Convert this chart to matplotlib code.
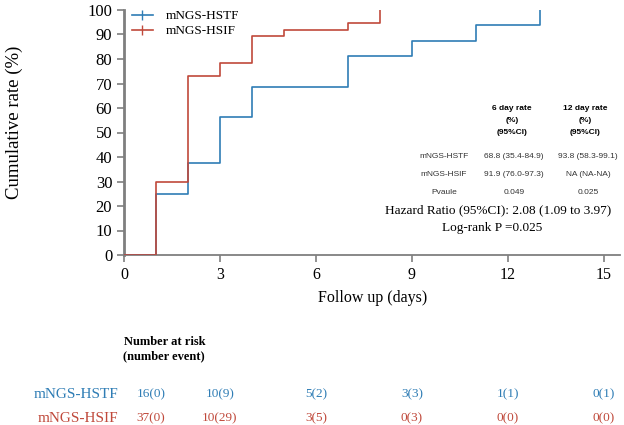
import numpy as np
import matplotlib.pyplot as plt
from matplotlib.lines import Line2D
import matplotlib.transforms as mtransforms

# cumulative rate curves
hstf_days = [0, 1, 2, 3, 4, 7, 9, 11, 13]
hstf_rate = [0, 25, 37.5, 56.25, 68.75, 81.25, 87.5, 93.75, 100]
hsif_days = [0, 1, 2, 3, 4, 5, 7, 8]
hsif_rate = [0, 29.7, 73.0, 78.4, 89.2, 91.9, 94.6, 100]

groups = ["mNGS-HSTF", "mNGS-HSIF"]
risk_days = [0, 3, 6, 9, 12, 15]
hstf_risk = ["16(0)", "10(9)", "5(2)", "3(3)", "1(1)", "0(1)"]
hsif_risk = ["37(0)", "10(29)", "3(5)", "0(3)", "0(0)", "0(0)"]

rate_6 = ["68.8 (35.4-84.9)", "91.9 (76.0-97.3)", "0.049"]
rate_12 = ["93.8 (58.3-99.1)", "NA (NA-NA)", "0.025"]
row_names = groups + ["Pvaule"]

blue = "#2f7db5"
red = "#c0493b"
gray = "#7f7f7f"

W, H = 624, 425
fig = plt.figure(figsize=(W / 100, H / 100), dpi=100)
ax = fig.add_axes([124 / W, 1 - 255 / H, (620 - 124) / W, (255 - 10) / H])

serif = ["Liberation Serif", "DejaVu Serif"]
sans = ["Liberation Sans", "DejaVu Sans"]

ax.step(hstf_days, hstf_rate, where="post", color=blue, lw=1.2, zorder=3)
ax.step(hsif_days, hsif_rate, where="post", color=red, lw=1.2, zorder=4)

ax.set_xlim(0, 15.5)
ax.set_ylim(0, 100)
ax.set_xticks([0, 3, 6, 9, 12, 15])
ax.set_yticks(np.arange(0, 101, 10))
for s in ["top", "right"]:
    ax.spines[s].set_visible(False)
ax.spines["left"].set_color(gray)
ax.spines["left"].set_linewidth(2)
ax.spines["bottom"].set_color(gray)
ax.spines["bottom"].set_linewidth(1.3)
ax.tick_params(colors=gray, width=1.2, length=5, labelcolor="black")
for lab in ax.get_xticklabels():
    lab.set_family(serif)
    lab.set_fontsize(11.5)
for lab in ax.get_yticklabels():
    lab.set_family(serif)
    lab.set_fontsize(12)
ax.set_xlabel("Follow up (days)", family=serif, fontsize=11.5, va="center")
ax.xaxis.set_label_coords((373 - 124) / 496, (255 - 298) / 245)
ax.set_ylabel("Cumulative rate (%)", family=serif, fontsize=13.5, va="center")
ax.yaxis.set_label_coords((14 - 124) / 496, (255 - 122) / 245)

handles = [Line2D([], [], color=blue, lw=1.2, marker="|", markersize=7),
           Line2D([], [], color=red, lw=1.2, marker="|", markersize=7)]
ax.legend(handles, groups, loc="upper left", bbox_to_anchor=(0.005, 1.021),
          borderaxespad=0, frameon=False, prop={"family": serif, "size": 9.5},
          handlelength=1.6, handletextpad=1.0, labelspacing=0.2)


def fx(px):
    return px / W


def fy(py):
    return 1 - py / H


# rate table inside plot
hdr_kw = dict(family=sans, fontsize=6, fontweight="bold", ha="center", va="center")
for cx, head in [(512, "6 day rate"), (585, "12 day rate")]:
    fig.text(fx(cx), fy(108), head, **hdr_kw)
    fig.text(fx(cx), fy(120), "(%)", **hdr_kw)
    fig.text(fx(cx), fy(132), "(95%CI)", **hdr_kw)
cell_kw = dict(family=sans, fontsize=6, ha="center", va="center", color="#333333")
for i, name in enumerate(row_names):
    y = fy(156 + i * 18)
    fig.text(fx(444), y, name, **cell_kw)
    fig.text(fx(514), y, rate_6[i], **cell_kw)
    fig.text(fx(588), y, rate_12[i], **cell_kw)

fig.text(fx(498), fy(210), "Hazard Ratio (95%CI): 2.08 (1.09 to 3.97)",
         family=serif, fontsize=9.5, ha="center", va="center")
fig.text(fx(492), fy(228), "Log-rank P =0.025",
         family=serif, fontsize=9.5, ha="center", va="center")

# number at risk table
fig.text(fx(124), fy(342), "Number at risk", family=serif, fontsize=9,
         fontweight="bold", ha="left", va="center")
fig.text(fx(123), fy(356), "(number event)", family=serif, fontsize=9,
         fontweight="bold", ha="left", va="center")

trans = mtransforms.blended_transform_factory(ax.transData, fig.transFigure)
for row, (name, vals, col) in enumerate(zip(groups, [hstf_risk, hsif_risk], [blue, red])):
    y = fy(394 + row * 24)
    fig.text(fx(118), y, name, family=serif, fontsize=11, color=col,
             ha="right", va="center")
    for d, v in zip(risk_days, vals):
        xpos = d if d > 0 else 0.85
        ax.text(xpos, y, v, transform=trans, family=serif, fontsize=9.5,
                color=col, ha="center", va="center", clip_on=False)

fig.savefig("out.png", dpi=100)
